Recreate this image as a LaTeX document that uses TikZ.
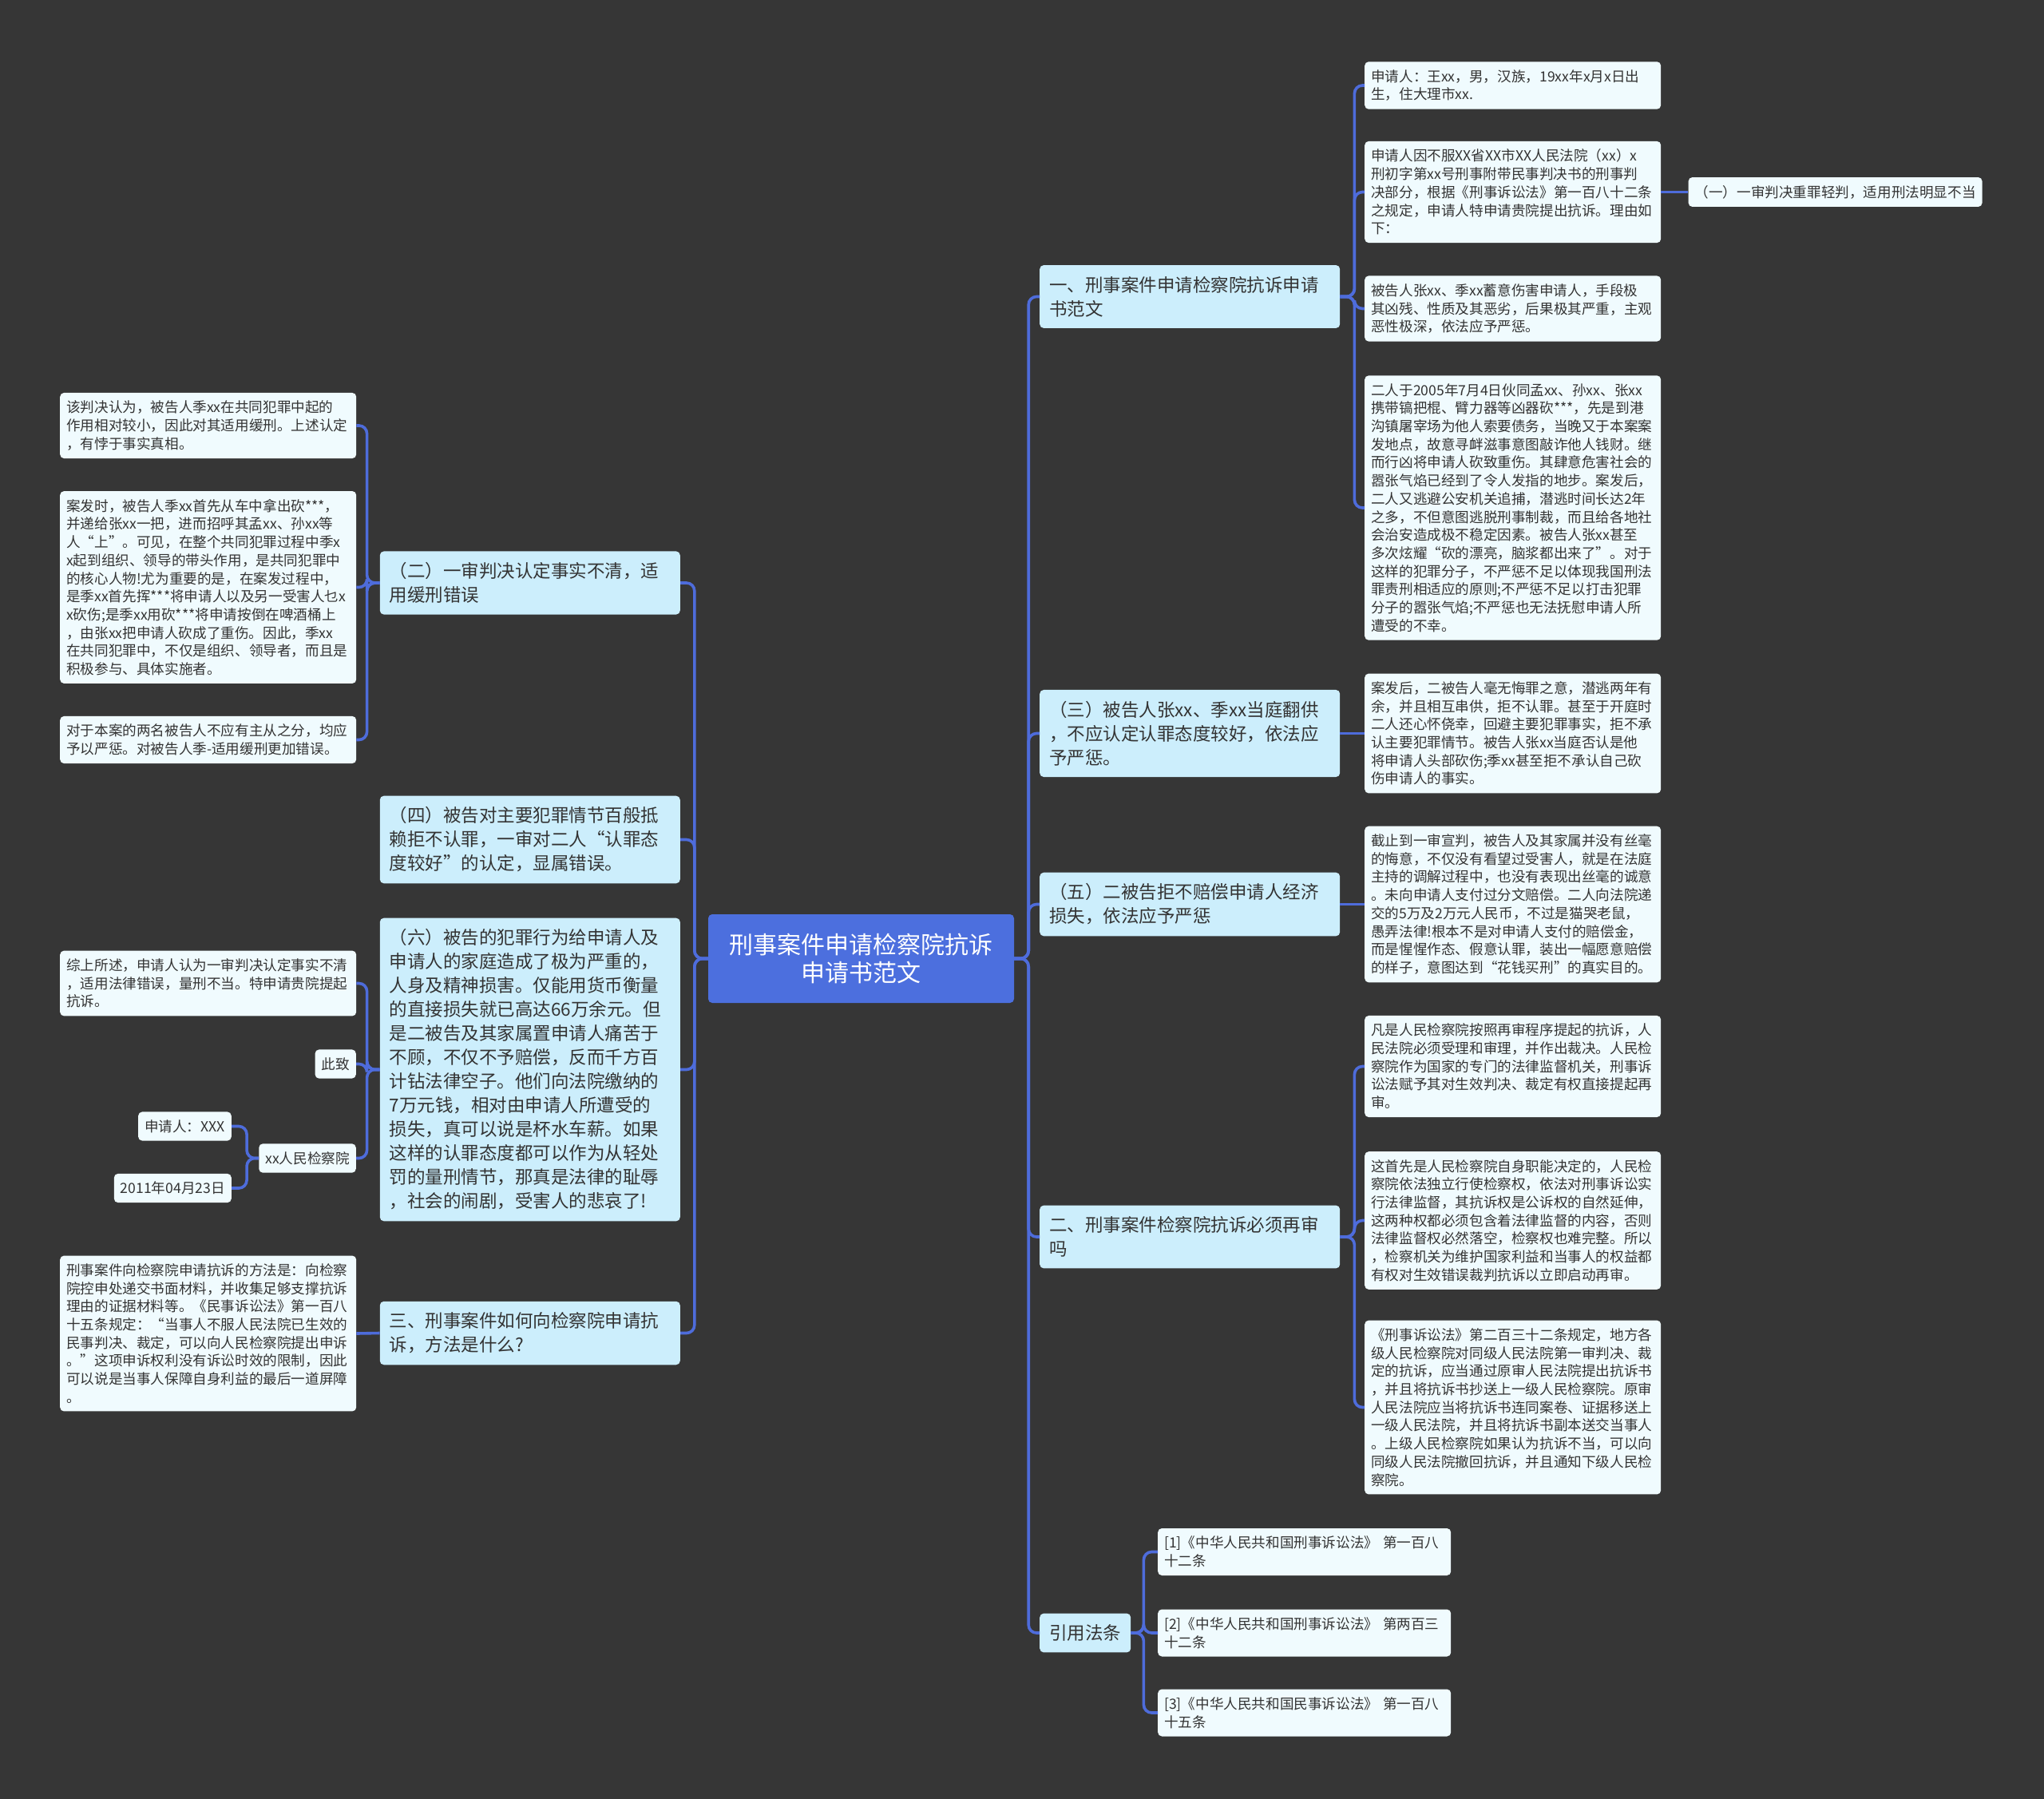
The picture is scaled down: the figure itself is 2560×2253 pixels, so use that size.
\documentclass[tikz,border=0pt]{standalone}
\usepackage{fontspec}
\setmainfont{Noto Sans CJK SC}
\usepackage{tikz}
\usetikzlibrary{positioning}
\definecolor{cBg}{RGB}{54,54,54}
\definecolor{cLink}{RGB}{78,108,219}
\definecolor{cHub}{RGB}{76,111,222}
\definecolor{cTopic}{RGB}{204,238,252}
\definecolor{cLeaf}{RGB}{240,251,254}
\definecolor{cText}{RGB}{51,51,51}
\tikzset{
  card/.style={rounded corners=5pt, text=cText, align=left},
  hub/.style={card, fill=cHub, text=white, align=center, font=\fontsize{30}{35}\selectfont, minimum width=383pt, minimum height=111pt, inner sep=4pt},
  topic/.style={card, fill=cTopic, font=\fontsize{22.5}{30}\selectfont, inner xsep=12pt, inner ysep=14pt, text width=352pt, anchor=west},
  tagbox/.style={card, fill=cLeaf, font=\fontsize{17.6}{22.7}\selectfont, inner xsep=8pt, inner ysep=10pt, anchor=west},
  detail/.style={tagbox, text width=355pt},
  link/.style={draw=cLink, line width=3.6pt, rounded corners=10pt}
}
\begin{document}
\begin{tikzpicture}[x=1pt,y=-1pt]
\useasboundingbox (0,0) rectangle (2560,2253);
\fill[cBg] (0,0) rectangle (2560,2253);
\node[hub] (root) at (1078.5,1200.5) {刑事案件申请检察院抗诉\\申请书范文};
\node[topic] (t1) at (1302,371.5) {一、刑事案件申请检察院抗诉申请\\书范文};
\node[topic] (t3) at (1302,918.5) {（三）被告人张xx、季xx当庭翻供\\，不应认定认罪态度较好，依法应\\予严惩。};
\node[topic] (t5) at (1302,1132.5) {（五）二被告拒不赔偿申请人经济\\损失，依法应予严惩};
\node[topic] (t2) at (1302,1549) {二、刑事案件检察院抗诉必须再审\\吗};
\node[topic, text width=] (t7) at (1302,2045) {引用法条};
\node[topic, anchor=east] (l2) at (852,730) {（二）一审判决认定事实不清，适\\用缓刑错误};
\node[topic, anchor=east] (l4) at (852,1051.5) {（四）被告对主要犯罪情节百般抵\\赖拒不认罪，一审对二人“认罪态\\度较好”的认定，显属错误。};
\node[topic, anchor=east] (l6) at (852,1339.5) {（六）被告的犯罪行为给申请人及\\申请人的家庭造成了极为严重的，\\人身及精神损害。仅能用货币衡量\\的直接损失就已高达66万余元。但\\是二被告及其家属置申请人痛苦于\\不顾，不仅不予赔偿，反而千方百\\计钻法律空子。他们向法院缴纳的\\7万元钱，相对由申请人所遭受的\\损失，真可以说是杯水车薪。如果\\这样的认罪态度都可以作为从轻处\\罚的量刑情节，那真是法律的耻辱\\，社会的闹剧，受害人的悲哀了!};
\node[topic, anchor=east] (l3) at (852,1669.5) {三、刑事案件如何向检察院申请抗\\诉，方法是什么?};
\node[detail] (d1a) at (1709,107) {申请人：王xx，男，汉族，19xx年x月x日出\\生，住大理市xx.};
\node[detail] (d1b) at (1709,240.5) {申请人因不服XX省XX市XX人民法院（xx）x\\刑初字第xx号刑事附带民事判决书的刑事判\\决部分，根据《刑事诉讼法》第一百八十二条\\之规定，申请人特申请贵院提出抗诉。理由如\\下：};
\node[tagbox, right=34pt of d1b] (d1b1) {（一）一审判决重罪轻判，适用刑法明显不当};
\node[detail] (d1c) at (1709,386.5) {被告人张xx、季xx蓄意伤害申请人，手段极\\其凶残、性质及其恶劣，后果极其严重，主观\\恶性极深，依法应予严惩。};
\node[detail] (d1d) at (1709,636) {二人于2005年7月4日伙同孟xx、孙xx、张xx\\携带镐把棍、臂力器等凶器砍***，先是到港\\沟镇屠宰场为他人索要债务，当晚又于本案案\\发地点，故意寻衅滋事意图敲诈他人钱财。继\\而行凶将申请人砍致重伤。其肆意危害社会的\\嚣张气焰已经到了令人发指的地步。案发后，\\二人又逃避公安机关追捕，潜逃时间长达2年\\之多，不但意图逃脱刑事制裁，而且给各地社\\会治安造成极不稳定因素。被告人张xx甚至\\多次炫耀“砍的漂亮，脑浆都出来了”。对于\\这样的犯罪分子，不严惩不足以体现我国刑法\\罪责刑相适应的原则;不严惩不足以打击犯罪\\分子的嚣张气焰;不严惩也无法抚慰申请人所\\遭受的不幸。};
\node[detail] (d3) at (1709,918.5) {案发后，二被告人毫无悔罪之意，潜逃两年有\\余，并且相互串供，拒不认罪。甚至于开庭时\\二人还心怀侥幸，回避主要犯罪事实，拒不承\\认主要犯罪情节。被告人张xx当庭否认是他\\将申请人头部砍伤;季xx甚至拒不承认自己砍\\伤申请人的事实。};
\node[detail] (d5) at (1709,1132.5) {截止到一审宣判，被告人及其家属并没有丝毫\\的悔意，不仅没有看望过受害人，就是在法庭\\主持的调解过程中，也没有表现出丝毫的诚意\\。未向申请人支付过分文赔偿。二人向法院递\\交的5万及2万元人民币，不过是猫哭老鼠，\\愚弄法律!根本不是对申请人支付的赔偿金，\\而是惺惺作态、假意认罪，装出一幅愿意赔偿\\的样子，意图达到“花钱买刑”的真实目的。};
\node[detail] (d2a) at (1709,1335.5) {凡是人民检察院按照再审程序提起的抗诉，人\\民法院必须受理和审理，并作出裁决。人民检\\察院作为国家的专门的法律监督机关，刑事诉\\讼法赋予其对生效判决、裁定有权直接提起再\\审。};
\node[detail] (d2b) at (1709,1528.5) {这首先是人民检察院自身职能决定的，人民检\\察院依法独立行使检察权，依法对刑事诉讼实\\行法律监督，其抗诉权是公诉权的自然延伸，\\这两种权都必须包含着法律监督的内容，否则\\法律监督权必然落空，检察权也难完整。所以\\，检察机关为维护国家利益和当事人的权益都\\有权对生效错误裁判抗诉以立即启动再审。};
\node[detail] (d2c) at (1709,1762.5) {《刑事诉讼法》第二百三十二条规定，地方各\\级人民检察院对同级人民法院第一审判决、裁\\定的抗诉，应当通过原审人民法院提出抗诉书\\，并且将抗诉书抄送上一级人民检察院。原审\\人民法院应当将抗诉书连同案卷、证据移送上\\一级人民法院，并且将抗诉书副本送交当事人\\。上级人民检察院如果认为抗诉不当，可以向\\同级人民法院撤回抗诉，并且通知下级人民检\\察院。};
\node[detail, text width=351pt] (c1) at (1450,1943.5) {[1]《中华人民共和国刑事诉讼法》 第一百八\\十二条};
\node[detail, text width=351pt] (c2) at (1450,2045) {[2]《中华人民共和国刑事诉讼法》 第两百三\\十二条};
\node[detail, text width=351pt] (c3) at (1450,2145) {[3]《中华人民共和国民事诉讼法》 第一百八\\十五条};
\node[detail] (e2a) at (75,533) {该判决认为，被告人季xx在共同犯罪中起的\\作用相对较小，因此对其适用缓刑。上述认定\\，有悖于事实真相。};
\node[detail] (e2b) at (75,735.5) {案发时，被告人季xx首先从车中拿出砍***，\\并递给张xx一把，进而招呼其孟xx、孙xx等\\人“上”。可见，在整个共同犯罪过程中季x\\x起到组织、领导的带头作用，是共同犯罪中\\的核心人物!尤为重要的是，在案发过程中，\\是季xx首先挥***将申请人以及另一受害人乜x\\x砍伤;是季xx用砍***将申请按倒在啤酒桶上\\，由张xx把申请人砍成了重伤。因此，季xx\\在共同犯罪中，不仅是组织、领导者，而且是\\积极参与、具体实施者。};
\node[detail] (e2c) at (75,926.5) {对于本案的两名被告人不应有主从之分，均应\\予以严惩。对被告人季-适用缓刑更加错误。};
\node[detail] (e6a) at (75,1231.5) {综上所述，申请人认为一审判决认定事实不清\\，适用法律错误，量刑不当。特申请贵院提起\\抗诉。};
\node[tagbox, anchor=east] (zhi) at (446,1332.5) {此致};
\node[tagbox, anchor=east] (yuan) at (446,1450.5) {xx人民检察院};
\node[tagbox, anchor=east] (shen) at (290,1410.5) {申请人：XXX};
\node[tagbox, anchor=east] (ri) at (290,1488) {2011年04月23日};
\node[detail] (e3) at (75,1670) {刑事案件向检察院申请抗诉的方法是：向检察\\院控申处递交书面材料，并收集足够支撑抗诉\\理由的证据材料等。《民事诉讼法》第一百八\\十五条规定：“当事人不服人民法院已生效的\\民事判决、裁定，可以向人民检察院提出申诉\\。”这项申诉权利没有诉讼时效的限制，因此\\可以说是当事人保障自身利益的最后一道屏障\\。};
\foreach \n in {t1,t3,t5,t2,t7} \draw[link] (root.east) -- ++(18,0) |- (\n.west);
\foreach \n in {l2,l4,l6,l3} \draw[link] (root.west) -- ++(-17,0) |- (\n.east);
\foreach \n in {d1a,d1b,d1c,d1d} \draw[link] (t1.east) -- ++(18,0) |- (\n.west);
\foreach \n in {d2a,d2b,d2c} \draw[link] (t2.east) -- ++(18,0) |- (\n.west);
\foreach \n in {c1,c2,c3} \draw[link] (t7.east) -- ++(16,0) |- (\n.west);
\draw[link] (d1b.east) -- (d1b1.west);
\draw[link] (t3.east) -- (d3.west);
\draw[link] (t5.east) -- (d5.west);
\foreach \n in {e2a,e2b,e2c} \draw[link] (l2.west) -- ++(-16,0) |- (\n.east);
\foreach \n in {e6a,zhi,yuan} \draw[link] (l6.west) -- ++(-16,0) |- (\n.east);
\foreach \n in {shen,ri} \draw[link] (yuan.west) -- ++(-15,0) |- (\n.east);
\draw[link] (l3.west) -- (e3.east);
\end{tikzpicture}
\end{document}
